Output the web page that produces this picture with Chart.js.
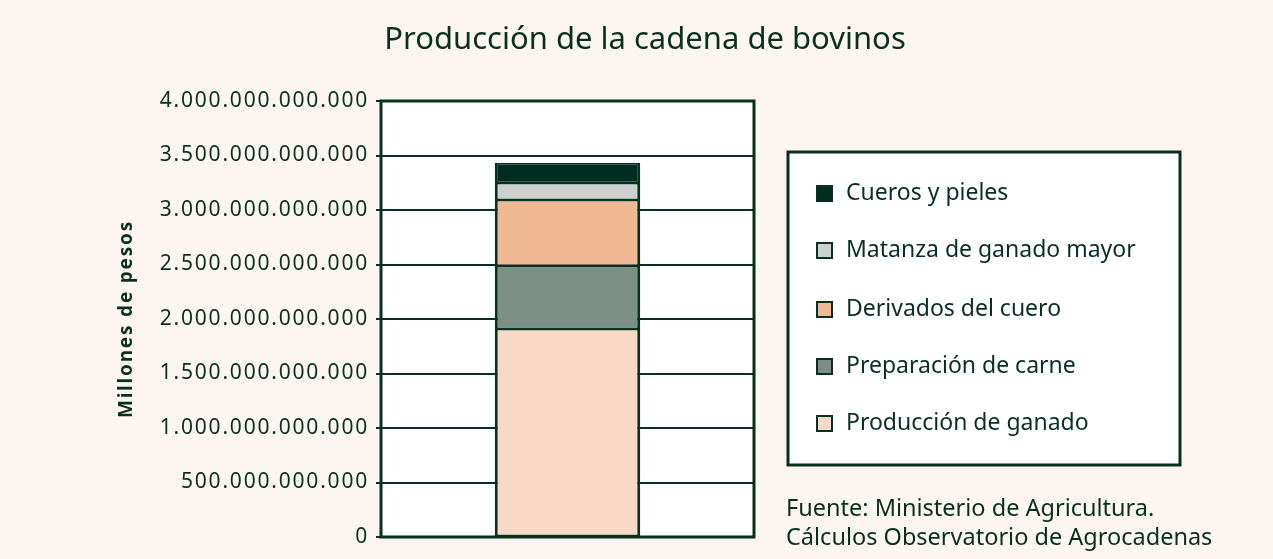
<!DOCTYPE html>
<html>
<head>
<meta charset="utf-8">
<script src="https://cdn.jsdelivr.net/npm/chart.js@4.4.1/dist/chart.umd.min.js"></script>
<style>
  html, body { margin: 0; padding: 0; background: #fdf5f2; }
  #wrap { position: relative; width: 1273px; height: 559px; }
</style>
</head>
<body>
<div id="wrap"><canvas id="bovinosChart" width="1273" height="559"></canvas></div>
<script>
const categories = ['Bovinos'];
const seriesLabels = ['Producción de ganado', 'Preparación de carne', 'Derivados del cuero', 'Matanza de ganado mayor', 'Cueros y pieles'];
const produccionGanado = [1908000000000];
const preparacionCarne = [578000000000];
const derivadosCuero = [606000000000];
const matanzaGanado = [156000000000];
const cuerosPieles = [183000000000];
const seriesColors = ['#f9d9c5', '#7b8f86', '#f0b993', '#ccd1cf', '#002d22'];
const tickValues = [0, 500000000000, 1000000000000, 1500000000000, 2000000000000, 2500000000000, 3000000000000, 3500000000000, 4000000000000];
const chartTitle = 'Producción de la cadena de bovinos';
const sourceLines = ['Fuente: Ministerio de Agricultura.', 'Cálculos Observatorio de Agrocadenas'];

const dark = '#07301f';
const font = 'Noto Sans';

const formatNum = v => String(v).replace(/\B(?=(\d{3})+(?!\d))/g, '.');

// plot background + frame, wider spacing for the axis text
const plotFrame = {
    id: 'plotFrame',
    beforeDraw(chart) {
        const a = chart.chartArea, ctx = chart.ctx;
        ctx.save();
        ctx.fillStyle = '#ffffff';
        ctx.fillRect(a.left, a.top, a.right - a.left, a.bottom - a.top);
        ctx.restore();
        ctx.letterSpacing = '1.8px';
    },
    beforeDatasetsDraw(chart) {
        chart.ctx.letterSpacing = '0px';
    },
    afterDraw(chart) {
        const a = chart.chartArea, ctx = chart.ctx;
        ctx.save();
        ctx.strokeStyle = dark;
        ctx.lineWidth = 3;
        ctx.strokeRect(a.left, a.top, a.right - a.left, a.bottom - a.top);
        ctx.restore();
    }
};

// title, boxed legend and source note
const boxLegend = {
    id: 'boxLegend',
    afterDraw(chart) {
        const ctx = chart.ctx;
        ctx.save();
        ctx.letterSpacing = '0px';
        ctx.fillStyle = dark;
        ctx.textBaseline = 'middle';
        ctx.textAlign = 'center';
        ctx.font = '31px "' + font + '"';
        ctx.fillText(chartTitle, 645, 40);
        ctx.textAlign = 'left';

        ctx.fillStyle = '#ffffff';
        ctx.fillRect(788, 152, 392, 313);
        ctx.strokeStyle = dark;
        ctx.lineWidth = 3;
        ctx.strokeRect(788, 152, 392, 313);
        const ds = chart.data.datasets.slice().reverse();
        const rows = [193, 250, 309, 366, 423];
        ctx.font = '23px "' + font + '"';
        ds.forEach((d, i) => {
            ctx.fillStyle = d.backgroundColor;
            ctx.fillRect(817, rows[i] - 7, 15, 15);
            ctx.lineWidth = 2;
            ctx.strokeStyle = dark;
            ctx.strokeRect(817, rows[i] - 7, 15, 15);
            ctx.fillStyle = dark;
            ctx.fillText(d.label, 846, rows[i]);
        });
        ctx.font = '23.5px "' + font + '"';
        sourceLines.forEach((t, i) => ctx.fillText(t, 786, 509 + i * 29));
        ctx.restore();
    }
};

const seriesData = [produccionGanado, preparacionCarne, derivadosCuero, matanzaGanado, cuerosPieles];

new Chart(document.getElementById('bovinosChart'), {
    type: 'bar',
    data: {
        labels: categories,
        datasets: seriesLabels.map((label, i) => ({
            label: label,
            data: seriesData[i],
            backgroundColor: seriesColors[i],
            borderColor: dark,
            borderWidth: { left: 3, right: 3, top: 1.5, bottom: 1.5 },
            borderSkipped: false,
            barPercentage: 0.39,
            categoryPercentage: 1
        }))
    },
    options: {
        responsive: false,
        animation: false,
        layout: { padding: { left: 0, right: 519, top: 101, bottom: 22 } },
        plugins: {
            legend: { display: false },
            tooltip: { enabled: false },
            title: { display: false }
        },
        scales: {
            x: {
                stacked: true,
                display: false
            },
            y: {
                stacked: true,
                min: 0,
                max: 4000000000000,
                afterBuildTicks: scale => { scale.ticks = tickValues.map(v => ({ value: v })); },
                afterFit: scale => { scale.width = 381; },
                ticks: {
                    color: dark,
                    padding: 7,
                    font: { family: font, size: 21 },
                    callback: v => formatNum(v)
                },
                grid: { color: dark, lineWidth: 2, tickLength: 5, drawTicks: true },
                border: { display: false },
                title: {
                    display: true,
                    text: 'Millones de pesos',
                    color: dark,
                    font: { family: font, size: 19, weight: 'bold' },
                    padding: { top: 115, bottom: 0 }
                }
            }
        }
    },
    plugins: [plotFrame, boxLegend]
});
</script>
</body>
</html>
